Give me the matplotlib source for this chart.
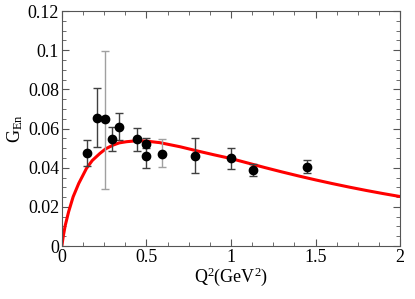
import matplotlib
matplotlib.use('Agg')
import matplotlib.pyplot as plt
import matplotlib.ticker as mticker

plt.rcParams.update({
    'font.family': 'Liberation Serif',
    'mathtext.fontset': 'custom',
    'mathtext.rm': 'Liberation Serif',
    'mathtext.it': 'Liberation Serif:italic',
    'font.size': 13,
})

# ── data ─────────────────────────────────────────────────────────────────────
q2      = [0.148, 0.207, 0.254, 0.296, 0.339, 0.446, 0.497, 0.497, 0.59, 0.789, 1.0, 1.132, 1.452]
gen     = [0.0477, 0.0655, 0.0647, 0.0546, 0.0606, 0.0545, 0.0521, 0.0458, 0.0471, 0.0461, 0.0448, 0.0388, 0.0405]
err_up  = [0.0064, 0.0150, 0.0350, 0.0064, 0.0072, 0.0059, 0.0032, 0.0060, 0.0074, 0.0092, 0.0054, 0.0029, 0.0034]
err_low = [0.0067, 0.0151, 0.0354, 0.0061, 0.0065, 0.0060, 0.0019, 0.0061, 0.0069, 0.0088, 0.0055, 0.0031, 0.0034]

curve_q2 = [0.0, 0.008, 0.02, 0.04, 0.067, 0.1, 0.146, 0.18, 0.225, 0.26, 0.304, 0.34, 0.383,
            0.446, 0.5, 0.58, 0.7, 0.8, 0.9, 1.0, 1.1, 1.2, 1.3, 1.4, 1.5, 1.6, 1.7, 1.8, 1.9, 2.0]
curve_g  = [0.0, 0.0048, 0.0105, 0.0175, 0.0252, 0.032, 0.0397, 0.0437, 0.0473, 0.0497, 0.0516, 0.0527, 0.0533,
            0.0538, 0.0536, 0.0528, 0.0507, 0.0486, 0.0466, 0.0447, 0.0424, 0.0401, 0.0379, 0.0358, 0.0338,
            0.0319, 0.0301, 0.0284, 0.0268, 0.0253]

fig = plt.figure(figsize=(4.15, 2.99), dpi=100)
ax = fig.add_axes([0.149, 0.177, 0.815, 0.786])

ax.plot(curve_q2, curve_g, color='#ff0000', linewidth=2.2, zorder=2)

light = {2, 8}
for i in range(len(q2)):
    ec = '#a0a0a0' if i in light else '#404040'
    ax.errorbar(q2[i], gen[i], yerr=[[err_low[i]], [err_up[i]]], fmt='o', color='black',
                markersize=6, ecolor=ec, elinewidth=1, capsize=3, capthick=1, zorder=3)

ax.set_xlim(0, 2)
ax.set_ylim(0, 0.12)
ax.xaxis.set_major_locator(mticker.MultipleLocator(0.5))
ax.xaxis.set_minor_locator(mticker.MultipleLocator(0.125))
ax.yaxis.set_major_locator(mticker.MultipleLocator(0.02))
ax.yaxis.set_minor_locator(mticker.MultipleLocator(0.005))
ax.xaxis.set_major_formatter(mticker.FuncFormatter(lambda v, _: f'{v:g}'))
ax.yaxis.set_major_formatter(mticker.FuncFormatter(lambda v, _: f'{round(v, 3):g}'))

for s in ax.spines.values():
    s.set_color('#555555')
ax.tick_params(which='both', direction='in', top=True, right=True, color='#555555', labelsize=13)
ax.tick_params(which='major', length=5, pad=2)
ax.tick_params(which='minor', length=3)

ax.set_xlabel(r'Q$^2$(GeV$^2$)', fontsize=13, labelpad=0)
ax.set_ylabel(r'G$_{\rm En}$', fontsize=13, labelpad=2)

fig.savefig('out.png', dpi=100)
